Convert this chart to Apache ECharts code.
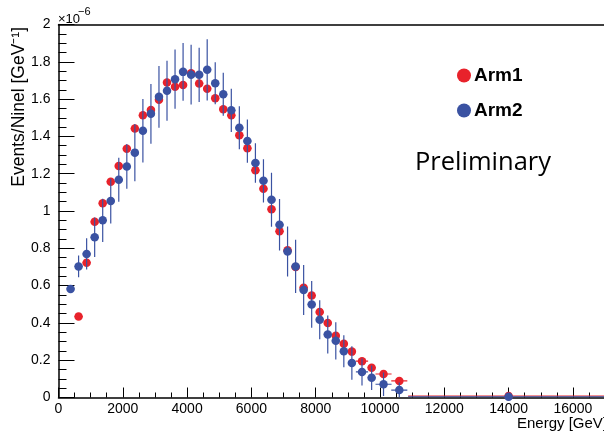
<!DOCTYPE html>
<html><head><meta charset="utf-8">
<script src="https://cdn.jsdelivr.net/npm/echarts@6/dist/echarts.min.js"></script>
<style>html,body{margin:0;padding:0;background:#fff}#c{width:604px;height:435px}</style>
</head><body><div id="c"></div>
<script>
// Bin centres (GeV) and half widths
const centers = [375,625,875,1125,1375,1625,1875,2125,2375,2625,2875,3125,3375,3625,3875,4125,4375,4625,4875,5125,5375,5625,5875,6125,6375,6625,6875,7125,7375,7625,7875,8125,8375,8625,8875,9125,9440,9740,10110,10600,14000];
const halfWidths = [125,125,125,125,125,125,125,125,125,125,125,125,125,125,125,125,125,125,125,125,125,125,125,125,125,125,125,125,125,125,125,125,125,125,125,125,190,125,250,250,3125];
// Values in units of 1e-6 GeV^-1
const arm1 = [null,0.434,0.723,0.942,1.042,1.157,1.241,1.334,1.442,1.513,1.542,1.597,1.689,1.666,1.675,1.738,1.684,1.655,1.605,1.546,1.513,1.406,1.337,1.219,1.119,1.010,0.891,0.790,0.700,0.589,0.547,0.458,0.400,0.331,0.288,0.246,0.195,0.160,0.126,0.089,0.008];
const arm1Err = [0,0,0,0,0,0,0,0,0,0,0,0,0,0,0,0,0,0,0,0,0,0,0,0,0,0,0,0,0,0,0,0,0,0,0,0,0,0,0,0,0];
const arm2 = [0.582,0.703,0.770,0.859,0.950,1.053,1.168,1.239,1.313,1.430,1.521,1.612,1.645,1.707,1.746,1.731,1.730,1.757,1.685,1.626,1.540,1.446,1.375,1.257,1.162,1.060,0.926,0.783,0.703,0.577,0.499,0.417,0.338,0.304,0.248,0.185,0.137,0.106,0.071,0.040,0.004];
const arm2Err = [0,0.058,0.084,0.106,0.116,0.120,0.118,0.120,0.154,0.170,0.160,0.165,0.161,0.159,0.155,0.160,0.145,0.164,0.113,0.115,0.116,0.115,0.116,0.106,0.116,0.145,0.138,0.134,0.143,0.134,0.125,0.104,0.102,0.100,0.086,0.090,0.072,0.066,0.063,0.040,0];
const xTicks = {min:0, max:18000, interval:2000};
const yTicks = {min:0, max:2, interval:0.2};

const RED = '#e8222b', BLUE = '#3a52a2';
const FONT = 'Liberation Sans';

function errData(ys, errs){
  const out = [];
  centers.forEach((x,i)=>{ if (ys[i]!=null) out.push([x, ys[i], x-halfWidths[i], x+halfWidths[i], Math.max(0,ys[i]-errs[i]), ys[i]+errs[i]]); });
  return out;
}
function ptData(ys){
  const out = [];
  centers.forEach((x,i)=>{ if (ys[i]!=null) out.push([x, ys[i]]); });
  return out;
}
function errSeries(ys, errs, color){
  return {
    type:'custom', xAxisIndex:0, yAxisIndex:0, silent:true, clip:true,
    encode:{x:0,y:1},
    data: errData(ys, errs),
    renderItem: function(params, api){
      const x = api.value(0), y = api.value(1);
      const p = api.coord([x,y]);
      const l = api.coord([api.value(2), y]);
      const r = api.coord([api.value(3), y]);
      const lo = api.coord([x, api.value(4)]);
      const hi = api.coord([x, api.value(5)]);
      const ch = [{type:'line', shape:{x1:l[0],y1:p[1],x2:r[0],y2:p[1]}, style:{stroke:color,lineWidth:1.2}}];
      if (api.value(5) > api.value(4) + 1e-9) ch.push({type:'line', shape:{x1:p[0],y1:lo[1],x2:p[0],y2:hi[1]}, style:{stroke:color,lineWidth:1.2}});
      return {type:'group', children: ch};
    }
  };
}

const chart = echarts.init(document.getElementById('c'), null, {renderer:'canvas'});
const axisCommonLine = {show:true, lineStyle:{color:'#000', width:1.5}};
chart.setOption({
  animation:false,
  backgroundColor:'#fff',
  grid:{left:58.5, top:24.5, width:578.7, height:373, containLabel:false, outerBoundsMode:'none'},
  xAxis:[{
    type:'value', min:xTicks.min, max:xTicks.max, interval:xTicks.interval,
    axisLine:axisCommonLine,
    axisTick:{show:true, inside:true, length:10, lineStyle:{color:'#000', width:1}},
    minorTick:{show:true, splitNumber:4, length:5, lineStyle:{color:'#000', width:1}},
    axisLabel:{show:true, color:'#000', fontSize:14, fontFamily:FONT, margin:5, formatter:function(v){return String(v);}},
    splitLine:{show:false}
  },{
    type:'value', position:'top', min:xTicks.min, max:xTicks.max,
    axisLine:axisCommonLine, axisTick:{show:false}, axisLabel:{show:false}, splitLine:{show:false}
  }],
  yAxis:{
    type:'value', min:yTicks.min, max:yTicks.max, interval:yTicks.interval,
    axisLine:axisCommonLine,
    axisTick:{show:true, inside:true, length:16, lineStyle:{color:'#000', width:1}},
    minorTick:{show:true, splitNumber:4, length:8, lineStyle:{color:'#000', width:1}},
    axisLabel:{color:'#000', fontSize:14, fontFamily:FONT, margin:8},
    splitLine:{show:false}
  },
  legend:{
    data:[{name:'Arm1', icon:'circle'},{name:'Arm2', icon:'circle'}],
    orient:'vertical', left:452, top:61, itemWidth:14, itemHeight:14, itemGap:16,
    textStyle:{color:'#000', fontWeight:'bold', fontSize:19, fontFamily:FONT, padding:[0,0,0,-2]},
    selectedMode:false
  },
  series:[
    Object.assign(errSeries(arm1, arm1Err, RED), {name:'Arm1 err', z:2}),
    {name:'Arm1', type:'scatter', symbol:'circle', symbolSize:8.5, itemStyle:{color:RED, opacity:1}, data:ptData(arm1), z:3},
    Object.assign(errSeries(arm2, arm2Err, BLUE), {name:'Arm2 err', z:4}),
    {name:'Arm2', type:'scatter', symbol:'circle', symbolSize:8.5, itemStyle:{color:BLUE, opacity:1}, data:ptData(arm2), z:5}
  ],
  graphic:[
    {type:'text', x:19, y:27, rotation:Math.PI/2, style:{text:'Events/Ninel [GeV\u207B\u00B9]', fill:'#000', font:'17.5px "Liberation Sans"', textAlign:'right', textVerticalAlign:'middle'}},
    {type:'text', x:517, y:424, style:{text:'Energy [GeV]', fill:'#000', font:'15px "Liberation Sans"', textAlign:'left', textVerticalAlign:'middle'}},
    {type:'text', x:58, y:19, style:{text:'\u00D710', fill:'#000', font:'13px "Liberation Sans"', textAlign:'left', textVerticalAlign:'middle'}},
    {type:'text', x:78, y:12, style:{text:'\u22126', fill:'#000', font:'11px "Liberation Sans"', textAlign:'left', textVerticalAlign:'middle'}},
    {type:'text', x:415, y:163, style:{text:'Preliminary', fill:'#000', font:'25.5px "Open Sans"', textAlign:'left', textVerticalAlign:'middle'}}
  ]
});
</script>
</body></html>
